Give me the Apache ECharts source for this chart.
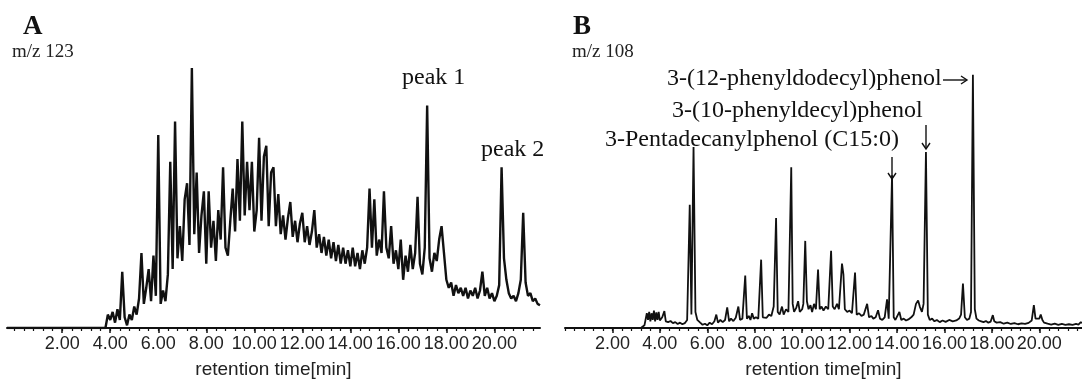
<!DOCTYPE html>
<html>
<head>
<meta charset="utf-8">
<script src="https://cdn.jsdelivr.net/npm/echarts@6/dist/echarts.min.js"></script>
<style>
  html, body { margin: 0; padding: 0; background: #fff; }
  #chart { width: 1082px; height: 384px; }
</style>
</head>
<body>
<div id="chart"></div>
<script>
// panel A: m/z 123, sampled every 0.1 min from 3.8 min
var startA = 3.8;
var stepA = 0.1;
var signalA = [
  0, 5, 3, 6, 2, 7, 3, 21, 4, 1,
  5, 3, 8, 5, 11, 28, 9, 15, 22, 10,
  27, 12, 72, 9, 14, 10, 20, 62, 22, 77,
  26, 38, 25, 48, 54, 31, 97, 35, 58, 28,
  42, 51, 24, 51, 30, 40, 25, 44, 33, 60,
  30, 27, 40, 52, 36, 63, 40, 77, 42, 62,
  44, 62, 36, 44, 71, 40, 64, 68, 38, 58,
  60, 38, 50, 35, 42, 33, 41, 47, 34, 40,
  32, 39, 43, 32, 38, 31, 36, 44, 30, 35,
  28, 34, 27, 33, 26, 32, 25, 31, 24, 30,
  24, 29, 23, 30, 23, 28, 22, 29, 24, 30,
  52, 30, 48, 27, 33, 28, 51, 30, 26, 38,
  24, 29, 22, 33, 18, 27, 21, 31, 22, 28,
  49, 24, 20, 30, 83, 26, 21, 28, 25, 33,
  38, 28, 18, 15, 17, 12, 16, 13, 15, 12,
  15, 11, 14, 12, 15, 11, 14, 21, 12, 15,
  11, 13, 10, 12, 16, 60, 26, 18, 13, 11,
  12, 10, 13, 18, 43, 17, 12, 13, 10, 11,
  9, 8.5
];

// panel B: m/z 108
var timesB = [
  3.0, 3.2, 3.35, 3.45, 3.5, 3.55, 3.6, 3.65, 3.7, 3.75, 3.8, 3.85, 3.9, 3.95, 4.0,
  4.1, 4.19, 4.25, 4.35, 4.45, 4.55, 4.65, 4.75, 4.85, 4.95, 5.05, 5.15, 5.26, 5.33, 5.42,
  5.5, 5.58, 5.7, 5.8, 5.9, 6.0, 6.1, 6.2, 6.3, 6.38, 6.45, 6.55, 6.65, 6.75, 6.84,
  6.92, 7.0, 7.1, 7.2, 7.31, 7.38, 7.48, 7.6, 7.67, 7.75, 7.82, 7.89, 7.96, 8.05, 8.15,
  8.27, 8.34, 8.42, 8.5, 8.6, 8.7, 8.8, 8.9, 8.97, 9.05, 9.15, 9.22, 9.32, 9.42, 9.54,
  9.6, 9.66, 9.75, 9.83, 9.9, 10.0, 10.05, 10.13, 10.2, 10.27, 10.35, 10.42, 10.5, 10.58, 10.67,
  10.74, 10.82, 10.9, 11.0, 11.1, 11.22, 11.29, 11.37, 11.47, 11.55, 11.68, 11.74, 11.8, 11.9, 12.0,
  12.1, 12.23, 12.3, 12.4, 12.5, 12.6, 12.74, 12.82, 12.92, 13.0, 13.1, 13.2, 13.28, 13.38, 13.48,
  13.58, 13.65, 13.72, 13.79, 13.86, 13.93, 14.0, 14.1, 14.18, 14.28, 14.38, 14.48, 14.6, 14.7, 14.8,
  14.89, 14.96, 15.05, 15.12, 15.22, 15.3, 15.38, 15.48, 15.58, 15.68, 15.8, 15.92, 16.05, 16.2, 16.35,
  16.5, 16.62, 16.7, 16.78, 16.86, 16.95, 17.05, 17.12, 17.2, 17.28, 17.35, 17.45, 17.55, 17.65, 17.75,
  17.85, 17.95, 18.04, 18.1, 18.2, 18.35, 18.5, 18.65, 18.8, 18.95, 19.1, 19.25, 19.4, 19.55, 19.68,
  19.77, 19.84, 19.92, 20.0, 20.06, 20.13, 20.2, 20.35, 20.5, 20.65, 20.8, 20.95, 21.1, 21.25, 21.4,
  21.55, 21.65, 21.75, 21.8
];
var signalB = [
  0, 0, 1, 5.5, 3, 6, 2.5, 5.5, 3, 6.5, 2.5, 5.8, 3, 6, 2.8,
  4, 6.3, 2.5, 2.2, 2.6, 1.8, 2.2, 1.5, 2, 1.4, 1.8, 3, 46, 5, 67.5,
  6, 3, 2, 1.2, 1.6, 1, 2, 1.4, 2.5, 5, 2, 3, 2.2, 3, 7.7,
  2.5, 3.5, 2.6, 3.8, 8, 3, 3.5, 19.6, 3.5, 4.5, 3, 5.5, 3.5, 4, 3.5,
  25.5, 4, 4.5, 3.8, 5, 4.5, 8, 41, 6, 5, 8, 5, 7, 6, 60,
  9, 6, 7.5, 10, 6, 7, 9, 32.5, 10, 7, 8.5, 6, 9, 7, 21.8,
  7, 8, 6.5, 8, 7, 28.8, 8, 7, 9, 7, 24, 20, 7, 6, 6.5,
  5.5, 20.7, 5, 5.5, 4.5, 5, 9, 4, 4.5, 3.5, 4, 6.6, 3.5, 3, 4,
  10.7, 3.5, 4, 57, 4, 3, 3.5, 6, 3, 3.5, 2.8, 3.2, 4, 5, 9,
  10.3, 8, 6, 9, 65.7, 5, 3, 3.5, 2.5, 3, 2.2, 2.8, 2.3, 3, 2.5,
  2.8, 3.5, 5, 16.6, 4, 3, 3.5, 6, 94.5, 7, 3.5, 2.8, 2.5, 2.2, 2.6,
  2, 2.4, 4.8, 2.5, 2, 2.2, 1.6, 2, 1.5, 1.8, 1.4, 1.7, 1.5, 1.9, 2.8,
  8.5, 3.5, 3, 3.5, 5, 3, 2, 1.6, 1.3, 1.6, 1.2, 1.5, 1.2, 1.4, 1.2,
  1.5, 1.3, 2.2, 1.8
];

var tickLabels = [2, 4, 6, 8, 10, 12, 14, 16, 18, 20];
var minorStep = 0.4;

var dataA = [[-0.3, 0]];
signalA.forEach(function (v, i) {
  dataA.push([+(startA + i * stepA).toFixed(2), v]);
});
var dataB = [[0, 0]];
timesB.forEach(function (t, i) { dataB.push([t, signalB[i]]); });

function minorTicks(lo, hi) {
  var out = [];
  for (var i = Math.ceil(lo / minorStep); i * minorStep <= hi; i++) {
    out.push(+(i * minorStep).toFixed(2));
  }
  return out;
}

var serif = 'Liberation Serif, Times New Roman, serif';
var sans = 'Liberation Sans, Arial, sans-serif';
var ink = '#111';

function mainAxis(grid, lo, hi) {
  return {
    type: 'value', gridIndex: grid, min: lo, max: hi, position: 'bottom',
    name: 'retention time[min]', nameLocation: 'middle', nameGap: 32,
    nameTextStyle: { fontFamily: sans, fontSize: 19, color: '#222' },
    axisLine: { lineStyle: { color: ink, width: 2 } },
    axisTick: { show: true, customValues: tickLabels, length: 5, inside: false,
      lineStyle: { color: ink, width: 1.5 } },
    axisLabel: { customValues: tickLabels, fontFamily: sans, fontSize: 18, color: '#222', margin: 7,
      formatter: function (v) { return v.toFixed(2); } },
    splitLine: { show: false }
  };
}
function minorAxis(grid, lo, hi) {
  return {
    type: 'value', gridIndex: grid, min: lo, max: hi, position: 'bottom',
    axisLine: { show: false },
    axisTick: { show: true, customValues: minorTicks(lo, hi), length: 3,
      lineStyle: { color: ink, width: 1.2 } },
    axisLabel: { show: false },
    splitLine: { show: false }
  };
}

// arrow glyph drawn as a short shaft with a head
function arrow(x1, y1, x2, y2) {
  var dx = x2 - x1, dy = y2 - y1, len = Math.sqrt(dx * dx + dy * dy);
  var ux = dx / len, uy = dy / len, h = 6, w = 4;
  return {
    type: 'group', children: [
      { type: 'line', shape: { x1: x1, y1: y1, x2: x2, y2: y2 }, style: { stroke: ink, lineWidth: 1.4 } },
      { type: 'polyline', shape: { points: [
          [x2 - ux * h - uy * w, y2 - uy * h + ux * w], [x2, y2], [x2 - ux * h + uy * w, y2 - uy * h - ux * w]
        ] }, style: { stroke: ink, lineWidth: 1.4, fill: null } }
    ]
  };
}

var chart = echarts.init(document.getElementById('chart'));
var option = {
  animation: false,
  backgroundColor: '#fff',
  grid: [
    { left: 7, top: 60, width: 533, height: 270 },
    { left: 565, top: 60, width: 517, height: 271 }
  ],
  xAxis: [
    mainAxis(0, -0.3, 21.9), minorAxis(0, -0.3, 21.9),
    mainAxis(1, 0, 21.8), minorAxis(1, 0, 21.8)
  ],
  yAxis: [
    { type: 'value', gridIndex: 0, min: 0, max: 100, show: false },
    { type: 'value', gridIndex: 1, min: 0, max: 100, show: false }
  ],
  series: [
    { type: 'line', xAxisIndex: 0, yAxisIndex: 0, data: dataA, showSymbol: false,
      lineStyle: { color: ink, width: 2.4 } },
    { type: 'line', xAxisIndex: 2, yAxisIndex: 1, data: dataB, showSymbol: false,
      lineStyle: { color: ink, width: 1.8 } }
  ],
  graphic: [
    { type: 'text', left: 23, top: 14, style: { text: 'A', font: 'bold 27px ' + serif, fill: '#111' } },
    { type: 'text', left: 12, top: 43, style: { text: 'm/z 123', font: '19px ' + serif, fill: '#222' } },
    { type: 'text', left: 573, top: 14, style: { text: 'B', font: 'bold 27px ' + serif, fill: '#111' } },
    { type: 'text', left: 572, top: 43, style: { text: 'm/z 108', font: '19px ' + serif, fill: '#222' } },
    { type: 'text', left: 402, top: 66, style: { text: 'peak 1', font: '24px ' + serif, fill: '#111' } },
    { type: 'text', left: 481, top: 138, style: { text: 'peak 2', font: '24px ' + serif, fill: '#111' } },
    { type: 'text', left: 667, top: 67, style: { text: '3-(12-phenyldodecyl)phenol', font: '24px ' + serif, fill: '#111' } },
    { type: 'text', left: 672, top: 99, style: { text: '3-(10-phenyldecyl)phenol', font: '24px ' + serif, fill: '#111' } },
    { type: 'text', left: 605, top: 128, style: { text: '3-Pentadecanylphenol (C15:0)', font: '24px ' + serif, fill: '#111' } },
    arrow(943, 80, 967, 80),
    arrow(926, 125, 926, 149),
    arrow(892, 157, 892, 179)
  ]
};
chart.setOption(option);
</script>
</body>
</html>
